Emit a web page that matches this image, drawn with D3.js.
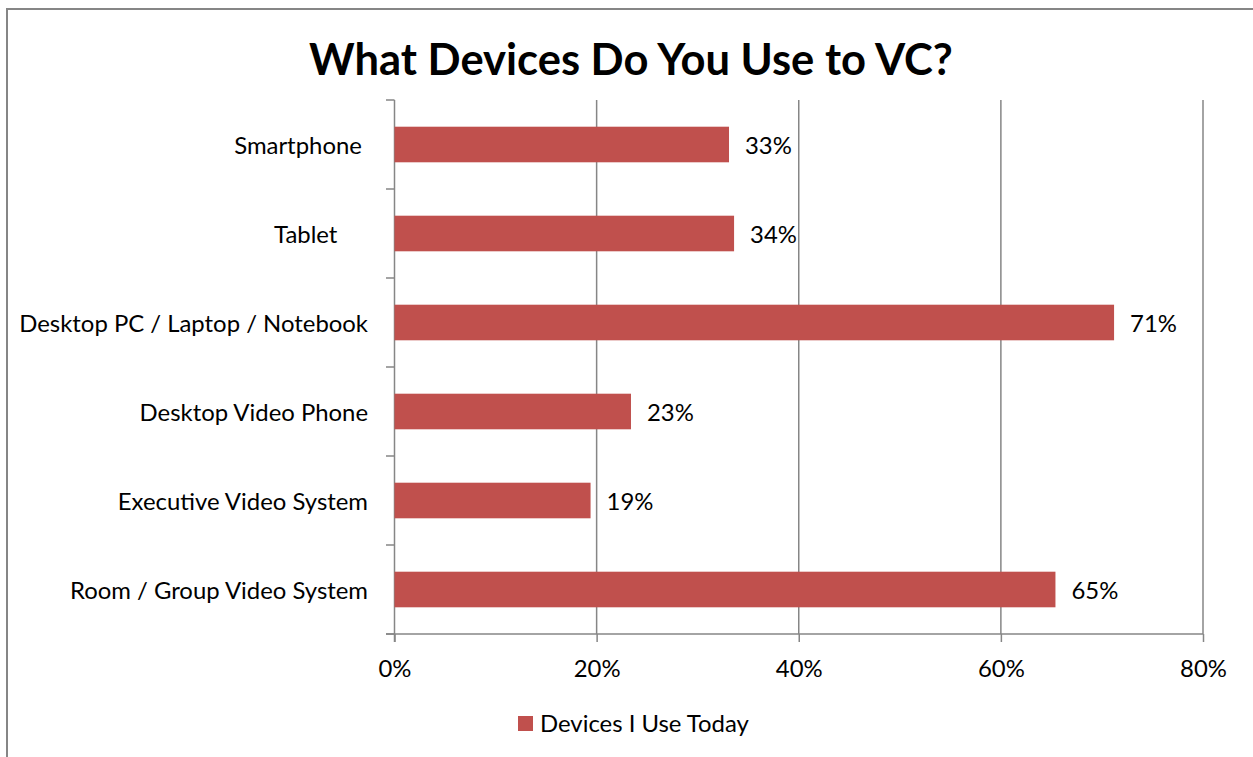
<!DOCTYPE html>
<html>
<head>
<meta charset="utf-8">
<script src="https://cdn.jsdelivr.net/npm/d3@7/dist/d3.min.js"></script>
<style>
  html, body { margin: 0; padding: 0; background: #fff; }
  svg { display: block; }
  text { font-family: Lato, "Open Sans", sans-serif; fill: #000; }
</style>
</head>
<body>
<svg id="chart" width="1253" height="757"></svg>
<script>
// ---- data ----
const categories = ["Smartphone ", "Tablet     ", "Desktop PC / Laptop / Notebook", "Desktop Video Phone", "Executive Video System", "Room / Group Video System"];
const values = [0.331, 0.336, 0.712, 0.234, 0.194, 0.654];
const seriesName = "Devices I Use Today";
const xTicks = [0, 0.2, 0.4, 0.6, 0.8];
const titleText = "What Devices Do You Use to VC?";

const svg = d3.select("#chart");
const W = 1253, H = 757;
const barColor = "#C0504D";
const gridColor = "#868686";

// chart border
svg.append("rect").attr("x", 7).attr("y", 9).attr("width", 1300).attr("height", 800)
  .attr("fill", "#fff").attr("stroke", "#868686").attr("stroke-width", 2);

// font fitting helper
function fitSize(text, target, weight) {
  const t = svg.append("text").attr("font-size", 100).attr("font-weight", weight || "normal")
    .style("white-space", "pre").text(text);
  const w = t.node().getComputedTextLength();
  t.remove();
  return 100 * target / w;
}
const baseSize = fitSize("Desktop PC / Laptop / Notebook", 349);
const titleSize = fitSize(titleText, 644, "bold");

const x = d3.scaleLinear().domain([0, 0.8]).range([394.5, 1203]);
const y = d3.scaleBand().domain(categories).range([100, 634]).paddingInner(0.6).paddingOuter(0.3);

// gridlines
const g = svg.append("g");
g.selectAll("line.grid").data(xTicks.slice(1)).join("line")
  .attr("x1", d => x(d)).attr("x2", d => x(d)).attr("y1", 100).attr("y2", 634)
  .attr("stroke", gridColor).attr("stroke-width", 1.5);

// x axis
const xAxis = d3.axisBottom(x).tickValues(xTicks).tickFormat(d3.format(".0%")).tickSize(8).tickSizeOuter(0);
const xg = svg.append("g").attr("transform", "translate(0,634)").call(xAxis);
xg.select(".domain").remove();
xg.selectAll(".tick line").attr("stroke", gridColor).attr("stroke-width", 1.5);
xg.selectAll(".tick text").attr("font-size", baseSize).attr("font-family", "Lato, 'Open Sans', sans-serif")
  .attr("fill", "#000").attr("y", 0).attr("dy", 0)
  .attr("transform", "translate(0,43)");
svg.append("line").attr("x1", 386).attr("x2", 1203).attr("y1", 634).attr("y2", 634)
  .attr("stroke", gridColor).attr("stroke-width", 1.5);

// y axis line and ticks at category boundaries
svg.append("line").attr("x1", x(0)).attr("x2", x(0)).attr("y1", 100).attr("y2", 642)
  .attr("stroke", gridColor).attr("stroke-width", 1.5);
const half = (y.step() - y.bandwidth()) / 2;
const bounds = categories.map(c => y(c) - half).concat([y(categories[categories.length - 1]) + y.bandwidth() + half]);
svg.selectAll("line.ytick").data(bounds).join("line")
  .attr("x1", 386).attr("x2", x(0)).attr("y1", d => d).attr("y2", d => d)
  .attr("stroke", gridColor).attr("stroke-width", 1.5);

// category labels
svg.selectAll("text.cat").data(categories).join("text")
  .attr("x", 368).attr("y", d => y(d) + y.bandwidth() / 2 + 9)
  .attr("text-anchor", "end").attr("font-size", baseSize)
  .style("white-space", "pre").text(d => d);

// bars
const data = categories.map((c, i) => ({ c, v: values[i] }));
svg.selectAll("rect.bar").data(data).join("rect")
  .attr("x", x(0)).attr("y", d => y(d.c)).attr("width", d => x(d.v) - x(0)).attr("height", y.bandwidth())
  .attr("fill", barColor);

// value labels
svg.selectAll("text.val").data(data).join("text")
  .attr("x", d => x(d.v) + 16).attr("y", d => y(d.c) + y.bandwidth() / 2 + 9)
  .attr("font-size", baseSize).text(d => d3.format(".0%")(d.v));

// title
svg.append("text").attr("x", 631).attr("y", 75).attr("text-anchor", "middle")
  .attr("font-size", titleSize).attr("font-weight", "bold").text(titleText);

// legend
svg.append("rect").attr("x", 518).attr("y", 716).attr("width", 15).attr("height", 15).attr("fill", barColor);
svg.append("text").attr("x", 540).attr("y", 732).attr("font-size", baseSize).text(seriesName);
</script>
</body>
</html>
